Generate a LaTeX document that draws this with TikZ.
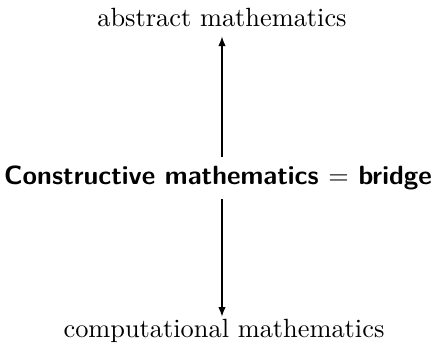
\documentclass[tikz,border=0pt]{standalone}
\usetikzlibrary{arrows.meta}
\begin{document}
\begin{tikzpicture}[x=0.3794pt,y=-0.3794pt,
  lbl/.style={font=\normalsize},
  mid/.style={font=\sffamily\bfseries},
  conn/.style={-{Latex[length=3.6pt,width=2.8pt]},line width=0.4pt}]
\useasboundingbox (0,0) rectangle (437,349);
\node[lbl] (t) at (222,18) {abstract mathematics};
\node[mid] (m) at (218,178) {Constructive mathematics $=$ bridge};
\node[lbl] (b) at (224,331) {computational mathematics};
\draw[conn] (m.north -| t.south) -- (t.south);
\draw[conn,shorten >=-2.5pt] (m.south -| t.south) -- (b.north -| t.south);
\end{tikzpicture}
\end{document}
